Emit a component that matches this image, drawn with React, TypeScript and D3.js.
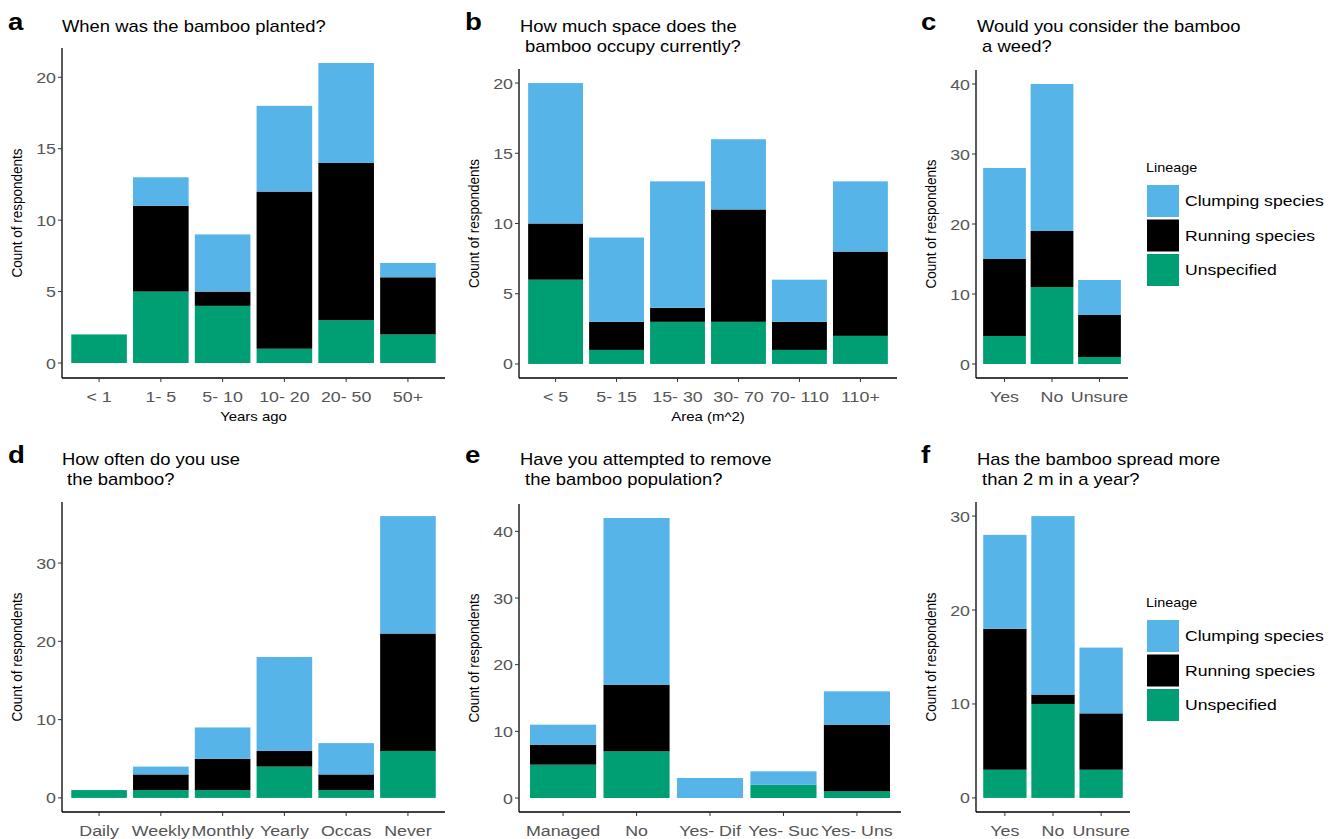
import React from "react";
import * as d3 from "d3";

// ---------- data ----------
const lineageNames = ["Clumping species", "Running species", "Unspecified"];
const lineageColors = ["#56B4E9", "#000000", "#009E73"];

const plantedCats = ["< 1", "1- 5", "5- 10", "10- 20", "20- 50", "50+"];
const plantedUnspecified = [2, 5, 4, 1, 3, 2];
const plantedRunning = [0, 6, 1, 11, 11, 4];
const plantedClumping = [0, 2, 4, 6, 7, 1];
const plantedTicks = [0, 5, 10, 15, 20];

const areaCats = ["< 5", "5- 15", "15- 30", "30- 70", "70- 110", "110+"];
const areaUnspecified = [6, 1, 3, 3, 1, 2];
const areaRunning = [4, 2, 1, 8, 2, 6];
const areaClumping = [10, 6, 9, 5, 3, 5];
const areaTicks = [0, 5, 10, 15, 20];

const weedCats = ["Yes", "No", "Unsure"];
const weedUnspecified = [4, 11, 1];
const weedRunning = [11, 8, 6];
const weedClumping = [13, 21, 5];
const weedTicks = [0, 10, 20, 30, 40];

const useCats = ["Daily", "Weekly", "Monthly", "Yearly", "Occas", "Never"];
const useUnspecified = [1, 1, 1, 4, 1, 6];
const useRunning = [0, 2, 4, 2, 2, 15];
const useClumping = [0, 1, 4, 12, 4, 15];
const useTicks = [0, 10, 20, 30];

const removeCats = ["Managed", "No", "Yes- Dif", "Yes- Suc", "Yes- Uns"];
const removeUnspecified = [5, 7, 0, 2, 1];
const removeRunning = [3, 10, 0, 0, 10];
const removeClumping = [3, 25, 3, 2, 5];
const removeTicks = [0, 10, 20, 30, 40];

const spreadCats = ["Yes", "No", "Unsure"];
const spreadUnspecified = [3, 10, 3];
const spreadRunning = [15, 1, 6];
const spreadClumping = [10, 19, 7];
const spreadTicks = [0, 10, 20, 30];

// ---------- styling ----------
const FONT = "'Liberation Sans', Arial, Helvetica, sans-serif";
const SX = 1.15;

function T({ x, y, anchor = "start", size, fill = "#000", weight = "normal", children }: any) {
  return (
    <text
      transform={`translate(${x},${y}) scale(${SX},1)`}
      textAnchor={anchor}
      fontSize={size}
      fill={fill}
      fontWeight={weight}
      fontFamily={FONT}
      style={{ whiteSpace: "pre" }}
    >
      {children}
    </text>
  );
}

const panels = [
  {
    letter: "a", letterX: 8, titleX: 62, titleY: 32,
    title: ["When was the bamboo planted?"],
    left: 62, right: 445, top: 48, bottom: 378,
    cats: plantedCats, u: plantedUnspecified, r: plantedRunning, c: plantedClumping, ticks: plantedTicks,
    xTitle: "Years ago", legendY: null,
  },
  {
    letter: "b", letterX: 465, titleX: 520, titleY: 32,
    title: ["How much space does the", " bamboo occupy currently?"],
    left: 519, right: 897, top: 69, bottom: 378,
    cats: areaCats, u: areaUnspecified, r: areaRunning, c: areaClumping, ticks: areaTicks,
    xTitle: "Area (m^2)", legendY: null,
  },
  {
    letter: "c", letterX: 921, titleX: 977, titleY: 32,
    title: ["Would you consider the bamboo", " a weed?"],
    left: 976, right: 1128, top: 70, bottom: 378,
    cats: weedCats, u: weedUnspecified, r: weedRunning, c: weedClumping, ticks: weedTicks,
    xTitle: null, legendY: 172,
  },
  {
    letter: "d", letterX: 8, titleX: 62, titleY: 465,
    title: ["How often do you use", " the bamboo?"],
    left: 62, right: 445, top: 502, bottom: 812,
    cats: useCats, u: useUnspecified, r: useRunning, c: useClumping, ticks: useTicks,
    xTitle: null, legendY: null,
  },
  {
    letter: "e", letterX: 465, titleX: 520, titleY: 465,
    title: ["Have you attempted to remove", " the bamboo population?"],
    left: 519, right: 901, top: 504, bottom: 812,
    cats: removeCats, u: removeUnspecified, r: removeRunning, c: removeClumping, ticks: removeTicks,
    xTitle: null, legendY: null,
  },
  {
    letter: "f", letterX: 921, titleX: 977, titleY: 465,
    title: ["Has the bamboo spread more", " than 2 m in a year?"],
    left: 976, right: 1130, top: 502, bottom: 812,
    cats: spreadCats, u: spreadUnspecified, r: spreadRunning, c: spreadClumping, ticks: spreadTicks,
    xTitle: null, legendY: 607,
  },
];

function Panel({ p }: any) {
  const rows = p.cats.map((cat: string, i: number) => ({ cat, u: p.u[i], r: p.r[i], c: p.c[i] }));
  const totals = rows.map((d: any) => d.u + d.r + d.c);
  const maxT = d3.max(totals) as number;
  const y = d3.scaleLinear().domain([-0.05 * maxT, maxT * 1.05]).range([p.bottom, p.top]);
  const x = d3.scaleBand<string>().domain(p.cats).range([p.left, p.right]).paddingInner(0.1).paddingOuter(0.15);
  const stack = d3.stack<any>().keys(["u", "r", "c"]);
  const layers = stack(rows);
  const colorByKey: any = { c: lineageColors[0], r: lineageColors[1], u: lineageColors[2] };

  return (
    <g>
      <T x={p.letterX} y={p.titleY - 2} size={24} weight="bold">{p.letter}</T>
      {p.title.map((line: string, i: number) => (
        <T key={i} x={p.titleX} y={p.titleY + i * 20} size={16}>{line}</T>
      ))}
      {layers.map((layer: any) => (
        <g key={layer.key} fill={colorByKey[layer.key]}>
          {layer.map((seg: any, i: number) =>
            seg[1] - seg[0] > 0 ? (
              <rect
                key={i}
                x={x(seg.data.cat)}
                width={x.bandwidth()}
                y={y(seg[1])}
                height={y(seg[0]) - y(seg[1])}
              />
            ) : null
          )}
        </g>
      ))}
      {/* axes */}
      <line x1={p.left} x2={p.left} y1={p.top} y2={p.bottom} stroke="#000" strokeWidth={1.3} />
      <line x1={p.left} x2={p.right} y1={p.bottom} y2={p.bottom} stroke="#000" strokeWidth={1.3} />
      {p.ticks.map((t: number) => (
        <g key={t}>
          <line x1={p.left - 4} x2={p.left} y1={y(t)} y2={y(t)} stroke="#333" strokeWidth={1} />
          <T x={p.left - 6} y={y(t) + 5.5} size={15.5} anchor="end" fill="#555">{String(t)}</T>
        </g>
      ))}
      {p.cats.map((cat: string) => {
        const cx = (x(cat) as number) + x.bandwidth() / 2;
        return (
          <g key={cat}>
            <line x1={cx} x2={cx} y1={p.bottom} y2={p.bottom + 4} stroke="#333" strokeWidth={1} />
            <T x={cx} y={p.bottom + 23.5} size={15.5} anchor="middle" fill="#555">{cat}</T>
          </g>
        );
      })}
      <text
        transform={`translate(${p.left - 40},${(p.top + p.bottom) / 2}) rotate(-90) scale(1,${SX})`}
        textAnchor="middle"
        fontSize={13.5}
        fontFamily={FONT}
      >
        Count of respondents
      </text>
      {p.xTitle && (
        <T x={(p.left + p.right) / 2} y={p.bottom + 43} size={13} anchor="middle">{p.xTitle}</T>
      )}
      {p.legendY !== null && (
        <g>
          <T x={1146} y={p.legendY} size={12.5}>Lineage</T>
          {lineageNames.map((name, i) => {
            const ky = p.legendY + 13 + i * 34.5;
            return (
              <g key={name}>
                <rect x={1147} y={ky} width={32} height={32} fill={lineageColors[i]} />
                <T x={1185} y={ky + 21} size={15.3}>{name}</T>
              </g>
            );
          })}
        </g>
      )}
    </g>
  );
}

export default function App() {
  return (
    <svg
      width={1338}
      height={839}
      style={{ position: "absolute", left: 0, top: 0, background: "#fff", display: "block" }}
    >
      <rect x={0} y={0} width={1338} height={839} fill="#fff" />
      {panels.map((p) => (
        <Panel key={p.letter} p={p} />
      ))}
    </svg>
  );
}
